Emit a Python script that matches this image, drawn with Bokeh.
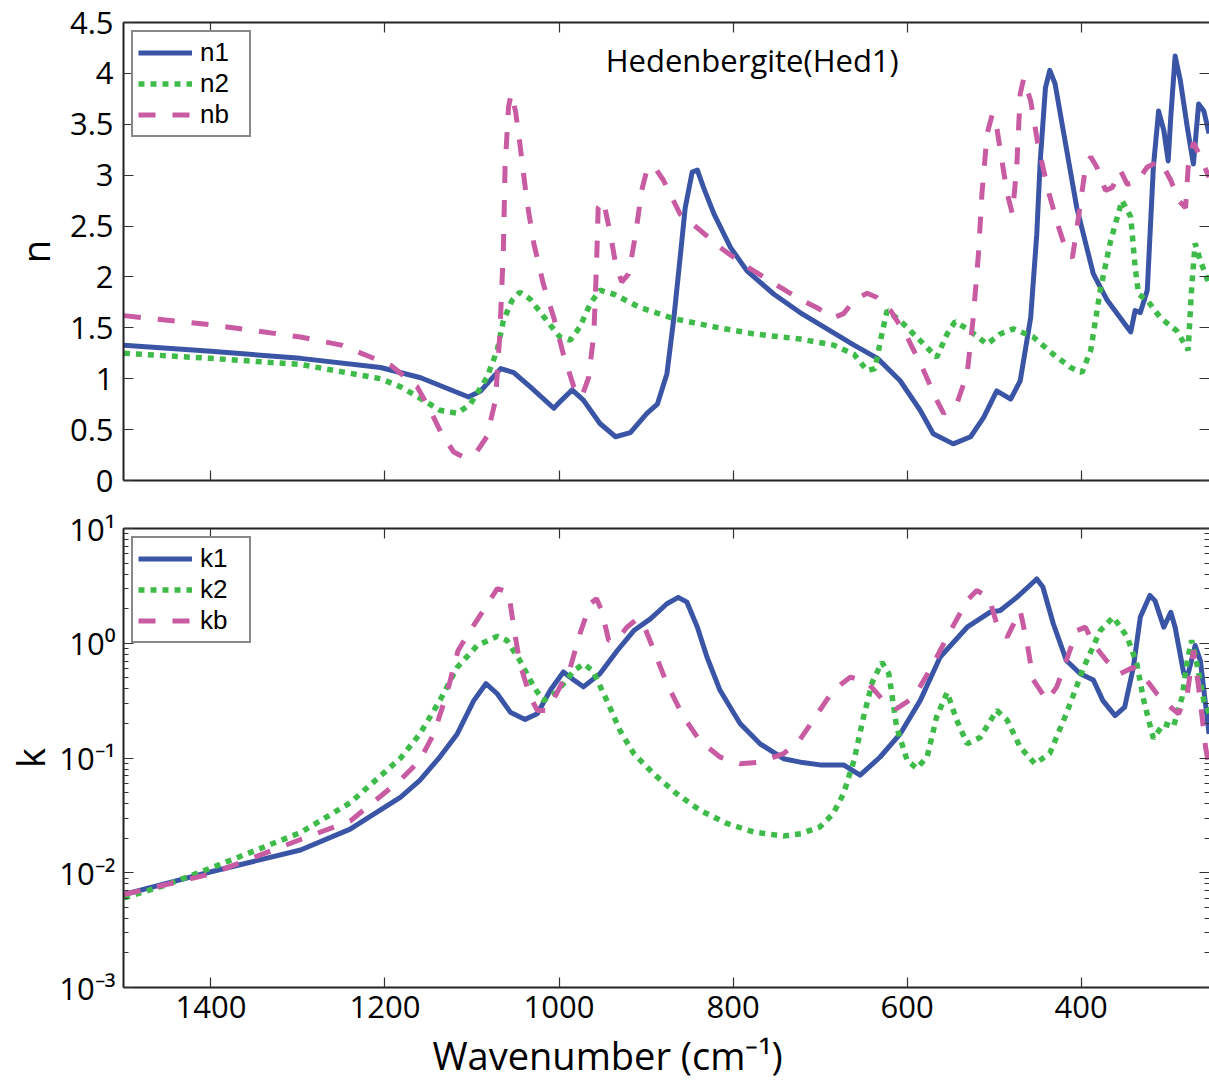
from bokeh.plotting import figure
from bokeh.models import (Range1d, LinearAxis, LogAxis, FixedTicker, Legend, LegendItem,
                          Label, Title, CustomJSTickFormatter, LogTicker)
from bokeh.layouts import column
from bokeh.embed import file_html
from bokeh.resources import INLINE

# ---------------- data ----------------
x_ticks = [1400, 1200, 1000, 800, 600, 400]
n_ticks = [0, 0.5, 1, 1.5, 2, 2.5, 3, 3.5, 4, 4.5]
title_text = "Hedenbergite(Hed1)"
x_label = "Wavenumber (cm\u207b\u00b9)"

n1_w = [1500, 1400, 1297, 1205, 1159, 1104, 1090, 1067, 1052, 1033, 1006, 997, 985, 972, 953, 935, 918,
        899, 887, 876, 868, 860, 855, 847, 841, 834, 822, 803, 784, 753, 723, 692, 661, 634, 608, 585,
        570, 547, 527, 512, 497, 481, 470, 458, 451, 447, 441, 436, 430, 420, 405, 386, 370, 343, 338,
        332, 324, 317, 311, 305, 300, 297, 292, 286, 278, 271, 265, 259, 253]
n1 = [1.33, 1.27, 1.20, 1.11, 1.01, 0.82, 0.88, 1.10, 1.06, 0.92, 0.71, 0.79, 0.89, 0.79, 0.56, 0.43, 0.47,
      0.66, 0.75, 1.05, 1.60, 2.26, 2.68, 3.03, 3.05, 2.88, 2.62, 2.29, 2.06, 1.83, 1.65, 1.49, 1.33, 1.20,
      0.98, 0.69, 0.46, 0.36, 0.43, 0.62, 0.88, 0.80, 0.98, 1.60, 2.42, 3.14, 3.86, 4.03, 3.90, 3.41, 2.68,
      2.03, 1.77, 1.46, 1.67, 1.65, 1.87, 3.08, 3.63, 3.44, 3.14, 3.57, 4.17, 3.93, 3.47, 3.11, 3.70, 3.63,
      3.41]

n2_w = [1500, 1400, 1297, 1205, 1182, 1156, 1137, 1117, 1102, 1083, 1071, 1064, 1054, 1045, 1033, 1014,
        999, 987, 976, 964, 953, 937, 907, 868, 822, 776, 723, 684, 661, 646, 637, 629, 623, 608, 589, 566,
        554, 545, 531, 508, 493, 478, 455, 432, 412, 399, 389, 378, 366, 353, 343, 338, 334, 324, 309, 290,
        277, 273, 269, 263, 253]
n2 = [1.25, 1.20, 1.14, 1.00, 0.92, 0.79, 0.69, 0.66, 0.75, 1.01, 1.28, 1.57, 1.77, 1.85, 1.78, 1.57,
      1.41, 1.38, 1.51, 1.74, 1.87, 1.83, 1.70, 1.59, 1.51, 1.44, 1.39, 1.33, 1.24, 1.08, 1.10, 1.44, 1.67,
      1.57, 1.41, 1.21, 1.44, 1.56, 1.49, 1.34, 1.44, 1.49, 1.41, 1.24, 1.11, 1.06, 1.28, 1.87, 2.36, 2.75,
      2.59, 2.10, 1.83, 1.77, 1.60, 1.47, 1.28, 1.90, 2.33, 2.16, 1.93]

nb_w = [1500, 1400, 1297, 1250, 1193, 1163, 1148, 1135, 1121, 1110, 1094, 1083, 1073, 1068, 1064, 1062,
        1058, 1055, 1050, 1045, 1037, 1029, 1018, 1006, 995, 983, 974, 966, 960, 957, 955, 949, 941, 935,
        928, 920, 912, 905, 899, 891, 880, 861, 838, 815, 784, 746, 723, 704, 684, 673, 661, 646, 635, 619,
        600, 581, 566, 558, 543, 531, 524, 518, 514, 508, 502, 497, 491, 485, 479, 474, 470, 466, 458, 449,
        437, 426, 416, 410, 403, 395, 389, 382, 372, 364, 355, 347, 336, 324, 309, 297, 288, 280, 277, 271,
        263, 253]
nb = [1.62, 1.53, 1.41, 1.33, 1.13, 0.92, 0.69, 0.46, 0.28, 0.23, 0.29, 0.43, 0.79, 1.44, 2.26, 3.08,
      3.67, 3.80, 3.63, 3.31, 2.75, 2.33, 1.93, 1.60, 1.24, 0.92, 0.82, 1.01, 1.44, 2.10, 2.68, 2.75, 2.42,
      2.13, 1.95, 2.03, 2.42, 2.85, 3.05, 3.09, 2.95, 2.62, 2.46, 2.29, 2.10, 1.90, 1.78, 1.70, 1.60, 1.64,
      1.77, 1.84, 1.80, 1.67, 1.41, 1.08, 0.79, 0.66, 0.75, 1.05, 1.60, 2.23, 2.82, 3.41, 3.60, 3.47, 3.14,
      2.82, 2.62, 3.08, 3.80, 3.95, 3.73, 3.27, 2.82, 2.49, 2.23, 2.19, 2.59, 3.08, 3.18, 3.08, 2.85, 2.88,
      3.05, 2.91, 2.93, 3.08, 3.14, 2.95, 2.75, 2.68, 3.08, 3.32, 3.18, 2.98]

k1_w = [1500, 1450, 1400, 1297, 1240, 1182, 1160, 1137, 1117, 1098, 1084, 1071, 1056, 1039, 1025, 1010,
        995, 983, 972, 953, 933, 914, 895, 876, 863, 853, 841, 830, 815, 792, 769, 742, 720, 700, 673, 654,
        631, 608, 585, 562, 531, 505, 493, 474, 451, 444, 432, 417, 401, 386, 375, 361, 350, 340, 332, 321,
        315, 305, 297, 292, 282, 277, 269, 263, 253]
k1 = [0.00646, 0.00813, 0.0102, 0.0158, 0.024, 0.0457, 0.0638, 0.102, 0.162, 0.316, 0.444, 0.363, 0.251,
      0.217, 0.243, 0.389, 0.562, 0.479, 0.417, 0.542, 0.865, 1.29, 1.63, 2.21, 2.51, 2.28, 1.38, 0.759,
      0.389, 0.200, 0.133, 0.0986, 0.0912, 0.0871, 0.0871, 0.0708, 0.102, 0.162, 0.316, 0.759, 1.38, 1.86,
      1.93, 2.51, 3.63, 3.09, 1.48, 0.708, 0.542, 0.479, 0.316, 0.234, 0.277, 0.617, 1.69, 2.61, 2.34, 1.38,
      1.86, 1.38, 0.542, 0.542, 0.955, 0.708, 0.162]

k2_w = [1500, 1450, 1400, 1297, 1240, 1182, 1160, 1137, 1117, 1094, 1071, 1060, 1045, 1029, 1018, 1003,
        983, 972, 961, 945, 930, 914, 891, 865, 838, 807, 776, 742, 722, 700, 685, 673, 661, 650, 640, 629,
        621, 612, 600, 589, 577, 566, 554, 543, 531, 516, 497, 485, 470, 453, 436, 417, 397, 378, 363, 347,
        336, 328, 317, 305, 294, 284, 278, 273, 267, 259, 253]
k2 = [0.00603, 0.0079, 0.011, 0.0224, 0.0407, 0.1, 0.162, 0.316, 0.617, 0.955, 1.15, 1.06, 0.708, 0.417,
      0.316, 0.372, 0.575, 0.661, 0.575, 0.316, 0.174, 0.109, 0.0724, 0.049, 0.035, 0.0269, 0.0226, 0.0209,
      0.0219, 0.0251, 0.0327, 0.049, 0.0955, 0.229, 0.457, 0.684, 0.542, 0.186, 0.0955, 0.0813, 0.102,
      0.229, 0.372, 0.214, 0.133, 0.151, 0.26, 0.214, 0.124, 0.0891, 0.11, 0.243, 0.617, 1.29, 1.69, 1.13,
      0.661, 0.316, 0.148, 0.2, 0.186, 0.339, 0.708, 1.06, 0.661, 0.316, 0.245]

kb_w = [1500, 1450, 1400, 1297, 1240, 1182, 1160, 1144, 1129, 1116, 1102, 1087, 1071, 1058, 1052, 1045,
        1033, 1025, 1014, 1003, 987, 976, 964, 957, 951, 943, 934, 922, 910, 901, 891, 876, 857, 838, 815,
        792, 769, 742, 723, 703, 685, 665, 646, 627, 612, 592, 570, 550, 531, 520, 506, 497, 485, 470, 462,
        455, 439, 428, 417, 405, 395, 386, 371, 355, 340, 325, 313, 297, 288, 278, 271, 265, 257, 253]
kb = [0.00646, 0.00794, 0.00977, 0.0195, 0.0282, 0.0646, 0.0955, 0.162, 0.363, 0.865, 1.29, 1.93, 2.99,
      2.79, 1.38, 0.661, 0.339, 0.26, 0.26, 0.363, 0.617, 1.21, 2.21, 2.45, 1.93, 1.06, 1.06, 1.38, 1.63,
      1.34, 0.865, 0.444, 0.229, 0.141, 0.102, 0.0891, 0.092, 0.109, 0.145, 0.243, 0.389, 0.507, 0.457,
      0.316, 0.269, 0.339, 0.661, 1.29, 2.36, 2.88, 2.51, 1.48, 1.13, 1.93, 0.99, 0.479, 0.316, 0.417,
      0.708, 1.29, 1.38, 0.99, 0.708, 0.542, 0.617, 0.479, 0.363, 0.277, 0.243, 0.363, 0.865, 0.417, 0.124,
      0.0832]

# ---------------- styling ----------------
FONT = "Open Sans"
LEG_FONT = "Liberation Sans"
BLUE = "#3a55a6"
GREEN = "#3fbb4a"
PINK = "#c95ba3"
SPINE = "#222222"
W_START, W_END = 1500.5, 252.5

sup_map_js = """
const e = Math.round(Math.log10(tick));
const m = {"-": "\u207b", "0": "\u2070", "1": "\u00b9", "2": "\u00b2", "3": "\u00b3"};
let s = "";
for (const c of String(e)) { s += m[c]; }
return "10" + s;
"""


def style_axis(ax, labels=True, size="31px", spine=True):
    ax.major_tick_in = 10
    ax.major_tick_out = 0
    ax.minor_tick_in = 5
    ax.minor_tick_out = 0
    if spine:
        ax.axis_line_color = SPINE
        ax.axis_line_width = 2
    else:
        ax.axis_line_color = None
    ax.major_tick_line_color = "#333333"
    ax.minor_tick_line_color = "#333333"
    ax.major_tick_line_width = 1.2
    ax.minor_tick_line_width = 1
    ax.major_label_text_font = FONT
    ax.major_label_text_color = "black"
    ax.axis_label_text_font = FONT
    ax.axis_label_text_font_style = "normal"
    ax.axis_label_text_color = "black"
    if labels:
        ax.major_label_text_font_size = size
    else:
        ax.formatter = CustomJSTickFormatter(code="return '';")
        ax.major_label_text_font_size = "1px"
        ax.major_label_text_color = None
        ax.major_label_standoff = 0


def base_fig(height, y_range, y_type, border_top, border_bottom):
    p = figure(width=1209, height=height, x_range=Range1d(W_START, W_END), y_range=y_range,
               y_axis_type=y_type, output_backend="svg", toolbar_location=None,
               x_axis_location=None, y_axis_location=None,
               min_border_left=123, min_border_right=0,
               min_border_top=border_top, min_border_bottom=border_bottom)
    p.grid.visible = False
    p.outline_line_color = None
    p.background_fill_color = "white"
    p.border_fill_color = "white"
    return p


def make_legend(items):
    lg = Legend(items=items, location="top_left")
    lg.margin = 8
    lg.padding = 5
    lg.spacing = 0
    lg.glyph_width = 54
    lg.glyph_height = 25
    lg.label_height = 25
    lg.label_width = 44
    lg.label_standoff = 8
    lg.label_text_font = LEG_FONT
    lg.label_text_font_size = "26px"
    lg.label_text_color = "black"
    lg.border_line_color = "#111111"
    lg.border_line_width = 2
    lg.background_fill_color = "white"
    lg.background_fill_alpha = 1
    return lg


# ---------------- top panel (n) ----------------
top = base_fig(504, Range1d(0, 4.5), "linear", 22, 24)

ly = LinearAxis(ticker=FixedTicker(ticks=n_ticks, minor_ticks=[]),
                formatter=CustomJSTickFormatter(code="return tick.toString();"),
                axis_label="n")
style_axis(ly)
ly.major_label_standoff = 10
ly.axis_label_standoff = 6
ly.axis_label_text_font_size = "38px"
top.add_layout(ly, "left")

ry = LinearAxis(ticker=FixedTicker(ticks=n_ticks, minor_ticks=[]))
style_axis(ry, labels=False, spine=False)
top.add_layout(ry, "right")

for loc in ("below", "above"):
    ax = LinearAxis(ticker=FixedTicker(ticks=x_ticks, minor_ticks=[]))
    style_axis(ax, labels=False)
    top.add_layout(ax, loc)

r_n1 = top.line(n1_w, n1, line_color=BLUE, line_width=5, line_join="round")
r_n2 = top.line(n2_w, n2, line_color=GREEN, line_width=5.5, line_dash="6 6", line_cap="butt")
r_nb = top.line(nb_w, nb, line_color=PINK, line_width=5, line_dash="17 17", line_cap="butt")

top.add_layout(Label(x=778, y=4.13, text=title_text, text_font=FONT, text_font_size="31px",
                     text_align="center", text_baseline="middle", text_color="black"))

top.add_layout(make_legend([LegendItem(label="n1", renderers=[r_n1]),
                            LegendItem(label="n2", renderers=[r_n2]),
                            LegendItem(label="nb", renderers=[r_nb])]))

# ---------------- bottom panel (k) ----------------
bot = base_fig(586, Range1d(1e-3, 10), "log", 24, 103)

lk = LogAxis(ticker=LogTicker(num_minor_ticks=10),
             formatter=CustomJSTickFormatter(code=sup_map_js), axis_label="k")
style_axis(lk)
lk.major_label_standoff = 8
lk.axis_label_standoff = 0
lk.axis_label_text_font_size = "38px"
bot.add_layout(lk, "left")

rk = LogAxis(ticker=LogTicker(num_minor_ticks=10))
style_axis(rk, labels=False, spine=False)
bot.add_layout(rk, "right")

bx = LinearAxis(ticker=FixedTicker(ticks=x_ticks, minor_ticks=[]))
style_axis(bx)
bx.major_label_standoff = 8
bot.add_layout(bx, "below")

ax_top = LinearAxis(ticker=FixedTicker(ticks=x_ticks, minor_ticks=[]))
style_axis(ax_top, labels=False)
bot.add_layout(ax_top, "above")

r_k1 = bot.line(k1_w, k1, line_color=BLUE, line_width=5, line_join="round")
r_k2 = bot.line(k2_w, k2, line_color=GREEN, line_width=5.5, line_dash="6 6", line_cap="butt")
r_kb = bot.line(kb_w, kb, line_color=PINK, line_width=5, line_dash="17 17", line_cap="butt")

bot.add_layout(make_legend([LegendItem(label="k1", renderers=[r_k1]),
                            LegendItem(label="k2", renderers=[r_k2]),
                            LegendItem(label="kb", renderers=[r_kb])]))

# x-axis title, placed where the reference puts it (left part of the frame width)
bot.add_layout(Title(text=x_label, align="left", offset=309, text_font=FONT, text_font_size="38px",
                     text_font_style="normal", text_color="black", standoff=12), "below")

layout = column(top, bot)
open("out.html", "w").write(file_html(layout, INLINE))
